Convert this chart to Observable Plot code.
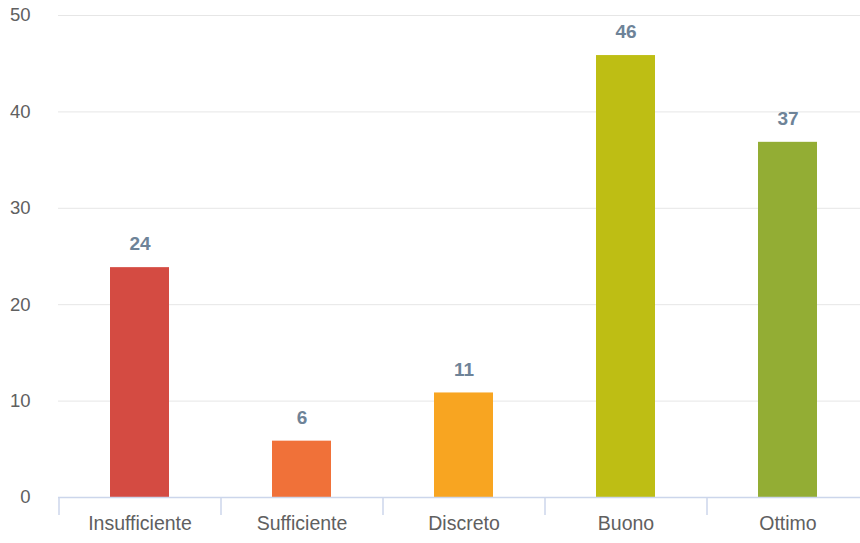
<!DOCTYPE html>
<html>
<head>
<meta charset="utf-8">
<script src="https://cdn.jsdelivr.net/npm/d3@7"></script>
<script src="https://cdn.jsdelivr.net/npm/@observablehq/plot@0.6"></script>
<style>
  html, body { margin: 0; padding: 0; background: #fff; }
  #chart svg { display: block; }
</style>
</head>
<body>
<div id="chart"></div>
<script>
const categories = ["Insufficiente", "Sufficiente", "Discreto", "Buono", "Ottimo"];
const values = [24, 6, 11, 46, 37];
const colors = ["#d44b42", "#f07139", "#f8a521", "#bebe14", "#93ad34"];
const yTicks = [0, 10, 20, 30, 40, 50];

const data = categories.map((c, i) => ({category: c, value: values[i], color: colors[i]}));

const font = "'Liberation Sans', Arial, Helvetica, sans-serif";

const chart = Plot.plot({
  width: 860,
  height: 543,
  marginTop: 15,
  marginBottom: 46,
  marginLeft: 58,
  marginRight: 0,
  style: {fontFamily: font, background: "#fff"},
  x: {domain: categories, range: [58, 868], paddingInner: 0.636, paddingOuter: 0.318, label: null},
  y: {domain: [0, 50], ticks: yTicks, label: null},
  marks: [
    Plot.gridY(yTicks, {stroke: "#e6e6e6", strokeOpacity: 1}),
    Plot.barY(data, {x: "category", y: "value", fill: "color", insetTop: 1.5}),
    Plot.ruleY([0], {stroke: "#ccd6eb", strokeWidth: 1.5}),
    Plot.axisX({tickSize: 18, tickFormat: () => "", dx: -81, stroke: "#ccd6eb", strokeWidth: 1.5, strokeOpacity: 1}),
    Plot.axisX({tickSize: 0, tickPadding: 19, fontSize: 19.5, fill: "#606060", label: null}),
    Plot.axisY(yTicks, {tickSize: 0, tickPadding: 28, fontSize: 18.5, fill: "#606060", label: null}),
    Plot.text(data, {x: "category", y: "value", text: d => String(d.value), dy: -22, fontSize: 19, fontWeight: "bold", fill: "#6e8398"})
  ]
});

document.getElementById("chart").appendChild(chart);
</script>
</body>
</html>
